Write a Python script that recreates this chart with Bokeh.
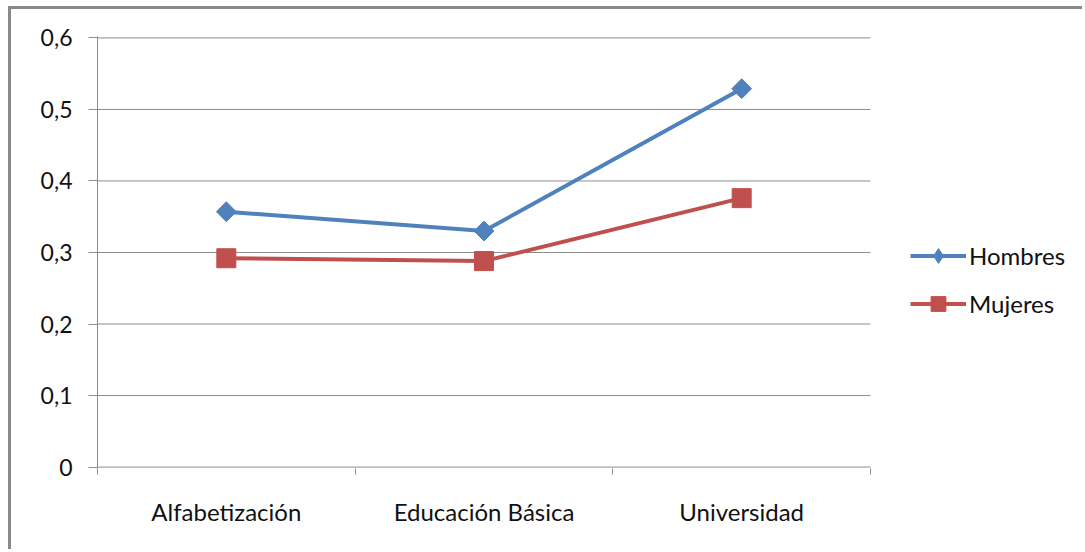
import math
from bokeh.plotting import figure
from bokeh.models import FixedTicker, Legend, LegendItem, ColumnDataSource, Range1d
from bokeh.embed import file_html
from bokeh.resources import INLINE

# Data
categories = ["Alfabetización", "Educación Básica", "Universidad"]
hombres = [0.357, 0.330, 0.529]
mujeres = [0.292, 0.288, 0.376]
y_ticks = [0, 0.1, 0.2, 0.3, 0.4, 0.5, 0.6]
y_tick_labels = ["0", "0,1", "0,2", "0,3", "0,4", "0,5", "0,6"]

FONT = "Lato"
FS_Y = "23px"
FS = "24px"
TXT = "#111111"
GRID = "#8c8c8c"
BLUE = "#4f81bd"
RED = "#c0504d"

n = len(categories)
xpos = [i + 0.5 for i in range(n)]
src = ColumnDataSource(dict(x=xpos, h=hombres, m=mujeres))

# the frame runs on to the right edge so the legend can sit beside the plot area;
# one category is 257.7 px wide and the frame is 988 px wide
x_end = 988 / 257.67
p = figure(width=1074, height=543, output_backend="svg", toolbar_location=None,
           x_range=Range1d(0, x_end), y_range=Range1d(-0.002, 0.602),
           min_border_left=86, min_border_right=0, min_border_top=27,
           min_border_bottom=84)
p.margin = (6, 0, 0, 8)
p.styles = {"border-left": "3px solid #8a8a8a", "border-top": "3px solid #8a8a8a"}
p.outline_line_color = None
p.background_fill_color = "white"
p.border_fill_color = "white"
p.xgrid.grid_line_color = None
p.ygrid.grid_line_color = None

# horizontal gridlines only across the category area (the 0 line doubles as x axis)
p.segment(x0=[0] * len(y_ticks), x1=[n] * len(y_ticks), y0=y_ticks, y1=y_ticks,
          line_color=GRID, line_width=1)

# y axis
p.yaxis.ticker = FixedTicker(ticks=y_ticks)
p.yaxis.major_label_overrides = {t: l for t, l in zip(y_ticks, y_tick_labels)}
p.yaxis.major_label_text_font = FONT
p.yaxis.major_label_text_font_size = FS_Y
p.yaxis.major_label_text_color = TXT
p.yaxis.axis_line_color = GRID
p.yaxis.major_tick_line_color = GRID
p.yaxis.major_tick_out = 9
p.yaxis.major_tick_in = 0
p.yaxis.minor_tick_line_color = None
p.yaxis.major_label_standoff = 16

# x axis: labels at category centres, tick marks at category boundaries
p.xaxis.ticker = FixedTicker(ticks=xpos, minor_ticks=list(range(n + 1)))
p.xaxis.major_label_overrides = {x: c for x, c in zip(xpos, categories)}
p.xaxis.major_label_text_font = FONT
p.xaxis.major_label_text_font_size = FS
p.xaxis.major_label_text_color = TXT
p.xaxis.axis_line_color = None
p.xaxis.major_tick_line_color = None
p.xaxis.major_tick_out = 0
p.xaxis.major_tick_in = 0
p.xaxis.minor_tick_line_color = GRID
p.xaxis.minor_tick_out = 6
p.xaxis.minor_tick_in = 0
p.xaxis.major_label_standoff = 22

# series
lh = p.line("x", "h", source=src, line_color=BLUE, line_width=4)
mh = p.scatter("x", "h", source=src, marker="square", angle=math.pi / 4, size=14,
               fill_color=BLUE, line_color=BLUE)
lm = p.line("x", "m", source=src, line_color=RED, line_width=4)
mm = p.scatter("x", "m", source=src, marker="square", size=19, fill_color=RED, line_color=RED)

# diamond swatch for the legend (zero size, so it only shows in the key)
key_h = p.scatter("x", "h", source=src, marker="diamond", size=0,
                  fill_color=BLUE, line_color=BLUE)

legend = Legend(items=[LegendItem(label="Hombres", renderers=[lh, key_h]),
                       LegendItem(label="Mujeres", renderers=[lm, mm])],
                location=(813, 146))
legend.label_text_font = FONT
legend.label_text_font_size = FS
legend.label_text_color = TXT
legend.glyph_width = 56
legend.glyph_height = 37
legend.spacing = 11
legend.label_standoff = 3
legend.border_line_color = None
legend.background_fill_alpha = 0
legend.padding = 0
legend.margin = 0
p.add_layout(legend)

open("out.html", "w").write(file_html(p, INLINE))
